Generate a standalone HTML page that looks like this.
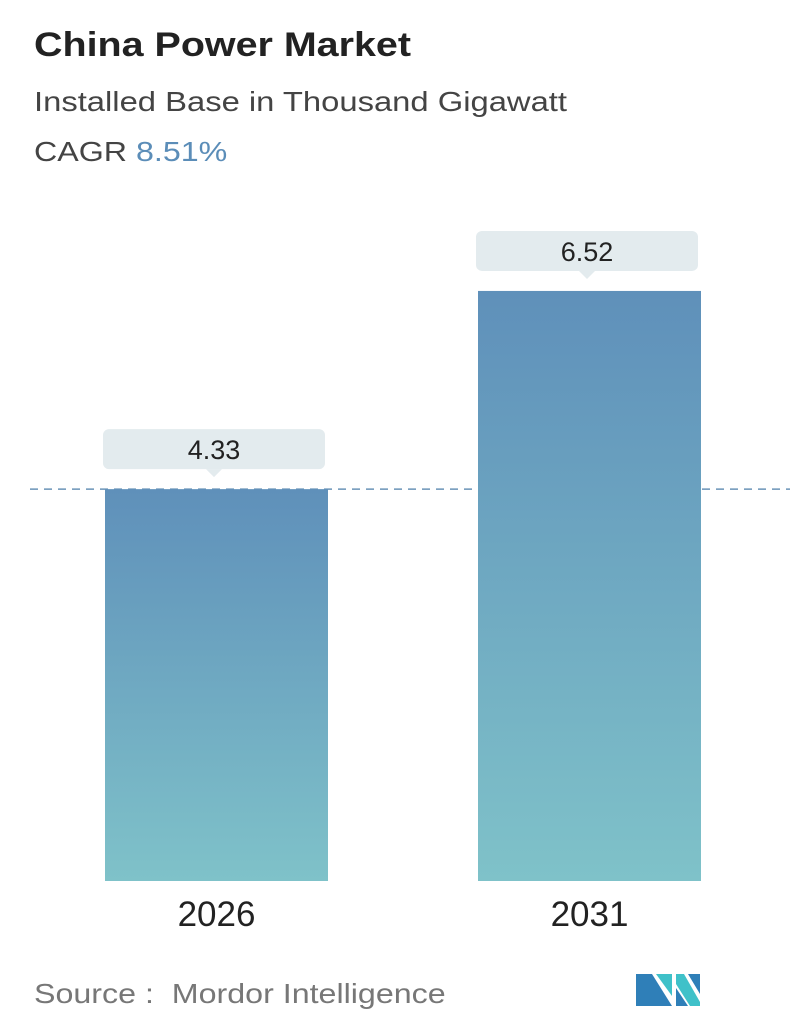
<!DOCTYPE html>
<html><head><meta charset="utf-8"><style>
body{margin:0;width:796px;height:1034px;background:#fff;font-family:"Liberation Sans","DejaVu Sans",sans-serif;overflow:hidden;position:relative}
.t{position:absolute;white-space:nowrap;transform-origin:left top}
</style></head><body>
<div class="t" style="left:34px;top:26px;font-size:34px;font-weight:bold;color:#222;transform:scaleX(1.16)">China Power Market</div>
<div class="t" style="left:34px;top:86px;font-size:28px;color:#444;transform:scaleX(1.17)">Installed Base in Thousand Gigawatt</div>
<div class="t" style="left:34px;top:136px;font-size:28px;color:#444;transform:scaleX(1.15)">CAGR <span style="color:#5b8db8">8.51%</span></div>
<svg id="chart" width="796" height="960" style="position:absolute;left:0;top:0">
<defs><linearGradient id="g" x1="0" y1="0" x2="0" y2="1"><stop offset="0" stop-color="#5f90ba"/><stop offset="1" stop-color="#7fc2c9"/></linearGradient></defs>
</svg>
<div class="t" style="left:34px;top:978px;font-size:28px;color:#777;transform:scaleX(1.15)">Source :&nbsp; Mordor Intelligence</div>
<svg width="70" height="40" style="position:absolute;left:634px;top:970px">
<polygon points="2,4 18,4 38,36 2,36" fill="#2f7fb8"/>
<polygon points="22,4 38,4 38,26" fill="#3fc1c9"/>
<polygon points="42,4 50,4 66,32 66,36 56,36 42,14" fill="#3fc1c9"/>
<polygon points="54,4 66,4 66,24" fill="#2f7fb8"/>
<polygon points="42,18 54,36 42,36" fill="#2f7fb8"/>
</svg>
<script>
const categories=["2026","2031"];
const values=[4.33,6.52];
const labels=["4.33","6.52"];
const svg=document.getElementById('chart');
const NS="http://www.w3.org/2000/svg";
const base=881, scale=90.5;
const y=v=>base-v*scale;
const xs=[105,478], bw=223;
function mk(t,a){const e=document.createElementNS(NS,t);for(const k in a)e.setAttribute(k,a[k]);svg.appendChild(e);return e;}
const dl=mk('line',{x1:30,x2:790,y1:y(values[0]),y2:y(values[0]),stroke:'#6a93b8','stroke-width':1.5,'stroke-dasharray':'8,6'});


categories.forEach((c,i)=>{
  const top=y(values[i]);
  const r=mk('rect',{x:xs[i],y:top,width:bw,height:base-top,fill:'url(#g)'});
  
  
  const bx=xs[i]-2, by=top-60;
  const b=mk('rect',{x:bx,y:by,width:222,height:40,rx:6,fill:'#e3ebee'});
  
  
  const p=mk('polygon',{points:`${bx+103},${by+40} ${bx+119},${by+40} ${bx+111},${by+48}`,fill:'#e3ebee'});
  
  
  const t=mk('text',{x:bx+111,y:by+30,'text-anchor':'middle','font-size':27,fill:'#222'});
  t.textContent=labels[i];
  
  
  const xl=mk('text',{x:xs[i]+bw/2,y:926,'text-anchor':'middle','font-size':35,fill:'#222'});
  xl.textContent=c;
  
  
});
</script>
</body></html>
